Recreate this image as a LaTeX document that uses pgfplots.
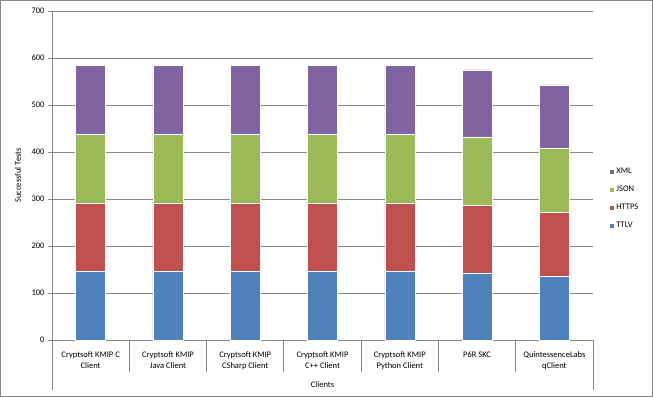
\documentclass[border=0pt]{standalone}
\usepackage{pgfplots}
\pgfplotsset{compat=1.18}
\usepackage{fontspec}
\setmainfont{Carlito}
\definecolor{cTTLV}{HTML}{4F81BD}
\definecolor{cHTTPS}{HTML}{C0504D}
\definecolor{cJSON}{HTML}{9BBB59}
\definecolor{cXML}{HTML}{8064A2}
\definecolor{axgray}{HTML}{878787}
\begin{document}
\begin{tikzpicture}
\draw[axgray, line width=1pt] (0.5pt,0.5pt) rectangle (652.5pt,396.5pt);
\begin{axis}[
  at={(52pt,57pt)}, anchor=south west,
  scale only axis, width=541pt, height=329pt,
  ybar stacked, bar width=30pt,
  xmin=-0.5, xmax=6.5, ymin=0, ymax=700,
  xtick={0,...,6},
  xticklabels={{Cryptsoft KMIP C\\Client},{Cryptsoft KMIP\\Java Client},{Cryptsoft KMIP\\CSharp Client},{Cryptsoft KMIP\\C++ Client},{Cryptsoft KMIP\\Python Client},{P6R SKC},{QuintessenceLabs\\qClient}},
  xticklabel style={align=center, font=\fontsize{8.5}{11}\selectfont, anchor=north, yshift=-4pt},
  x tick style={draw=none},
  ytick={0,100,...,700},
  yticklabel style={font=\fontsize{8.5}{9}\selectfont},
  /pgf/number format/assume math mode=true,
  y tick style={axgray, line width=0.8pt},
  tick align=outside, major tick length=4pt,
  ymajorgrids, grid style={axgray, line width=0.8pt},
  axis x line*=bottom, axis y line*=left,
  axis line style={axgray, line width=0.8pt, -},
  ylabel={Successful Tests},
  ylabel style={font=\fontsize{8.5}{9}\selectfont, at={(axis description cs:-0.063,0.5)}, anchor=center},
  xlabel={Clients},
  xlabel style={font=\fontsize{8.5}{9}\selectfont, at={(axis description cs:0.5,-0.1368)}, anchor=center},
  legend style={draw=none, fill=none, at={(axis description cs:1.0294,0.529)}, anchor=north west, font=\fontsize{8.5}{9}\selectfont, row sep=7pt, inner sep=0pt},
  legend cell align=left,
  reverse legend,
  legend image code/.code={\fill[#1] (0pt,-2.5pt) rectangle (5pt,2.5pt);},
  every axis plot/.append style={draw=white, line width=0.3pt},
]
\addplot[fill=cTTLV] coordinates {(0,146) (1,146) (2,146) (3,146) (4,146) (5,143) (6,136)};
\addlegendentry{TTLV}
\addplot[fill=cHTTPS] coordinates {(0,146) (1,146) (2,146) (3,146) (4,146) (5,144) (6,135)};
\addlegendentry{HTTPS}
\addplot[fill=cJSON] coordinates {(0,146) (1,146) (2,146) (3,146) (4,146) (5,145) (6,138)};
\addlegendentry{JSON}
\addplot[fill=cXML] coordinates {(0,146) (1,146) (2,146) (3,146) (4,146) (5,143) (6,134)};
\addlegendentry{XML}
\end{axis}
\begin{scope}[axgray, line width=0.8pt]
\draw (52pt,57pt) -- (52pt,7pt);
\draw (593pt,57pt) -- (593pt,7pt);
\foreach \i in {1,...,6} {
  \draw ({52+541/7*\i pt},57pt) -- ({52+541/7*\i pt},25pt);
}
\end{scope}
\end{tikzpicture}
\end{document}
